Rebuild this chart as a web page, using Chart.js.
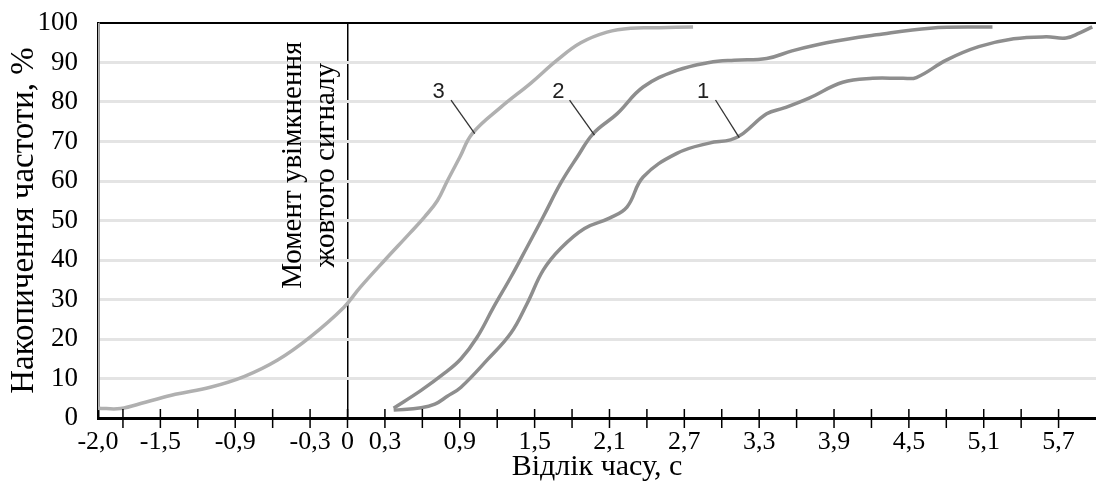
<!DOCTYPE html>
<html>
<head>
<meta charset="utf-8">
<script src="https://cdn.jsdelivr.net/npm/chart.js@4/dist/chart.umd.min.js"></script>
<style>
  html, body { margin: 0; padding: 0; background: #fff; }
  #wrap { width: 1096px; height: 482px; }
</style>
</head>
<body>
<div id="wrap"><canvas id="cumChart"></canvas></div>
<script>
// Curve 1
const curve1X = [0.37, 0.59, 0.7, 0.8, 0.91, 1.12, 1.31, 1.44, 1.57, 1.71, 1.9, 2.1, 2.24, 2.37, 2.64, 2.9, 3.07, 3.17, 3.36, 3.5, 3.7, 3.97, 4.21, 4.45, 4.56, 4.8, 5.06, 5.34, 5.6, 5.76, 5.87, 5.97];
const curve1Y = [2, 2.6, 3.5, 5.5, 7.8, 14.7, 21.5, 29, 37.5, 43, 48, 50.6, 53.4, 61, 67, 69.6, 70.4, 72, 77, 78.5, 81, 85, 86, 86, 86.2, 90.6, 94, 96, 96.5, 96.2, 97.5, 99];
// Curve 2
const curve2X = [0.37, 0.59, 0.78, 0.91, 1.04, 1.17, 1.31, 1.44, 1.57, 1.71, 1.84, 1.97, 2.16, 2.37, 2.64, 2.9, 3.1, 3.36, 3.57, 3.84, 4.24, 4.67, 5.17];
const curve2Y = [2.5, 7, 11.4, 15, 20.5, 28, 35.7, 43.3, 51, 59.5, 66, 72, 77, 83.8, 88, 90, 90.6, 91, 93, 95, 97, 98.7, 99];
// Curve 3
const curve3X = [-2.0, -1.82, -1.62, -1.38, -1.1, -0.83, -0.56, -0.3, -0.03, 0.1, 0.3, 0.5, 0.62, 0.72, 0.8, 0.9, 1.0, 1.23, 1.47, 1.68, 1.87, 2.08, 2.27, 2.5, 2.77];
const curve3Y = [2.5, 2.4, 4, 6, 7.8, 10.5, 14.7, 20.5, 28, 33, 40, 46.8, 51, 55, 60, 66, 72, 78.7, 84.8, 90.6, 95, 97.7, 98.7, 98.8, 99];
// vertical trace of curve 3 along the left axis
const edgeX = [-2.0, -2.0];
const edgeY = [100, 2.5];

const xLabelValues = [-2.0, -1.5, -0.9, -0.3, 0, 0.3, 0.9, 1.5, 2.1, 2.7, 3.3, 3.9, 4.5, 5.1, 5.7];
const xLabels = ['-2,0', '-1,5', '-0,9', '-0,3', '0', '0,3', '0,9', '1,5', '2,1', '2,7', '3,3', '3,9', '4,5', '5,1', '5,7'];

const curveNames = ['3', '2', '1'];

function pairs(xs, ys) {
  return xs.map((x, i) => ({ x: x, y: ys[i] }));
}

const serif = '"Liberation Serif", "Times New Roman", serif';

// numbered leader labels and the rotated note next to the zero line
const annotate = {
  id: 'annotate',
  afterDraw(chart) {
    const { ctx, chartArea } = chart;
    const x = chart.scales.x, y = chart.scales.y;
    ctx.save();

    // tick marks crossing the x axis
    ctx.strokeStyle = '#000';
    ctx.lineWidth = 1.5;
    x.ticks.forEach(t => {
      if (t.value <= -2) return;
      const px = x.getPixelForValue(t.value);
      ctx.beginPath();
      ctx.moveTo(px, chartArea.bottom - 9);
      ctx.lineTo(px, chartArea.bottom + 10);
      ctx.stroke();
    });

    // curve numbers with leader lines
    const spots = [
      { at: [0.73, 82.5], from: [0.83, 80.5], to: [1.02, 72] },
      { at: [1.69, 82.5], from: [1.78, 80.5], to: [1.98, 71.6] },
      { at: [2.85, 82.5], from: [2.95, 80.5], to: [3.14, 71] }
    ];
    ctx.font = '22px "Liberation Sans", Arial, sans-serif';
    ctx.fillStyle = '#222';
    ctx.textAlign = 'center';
    ctx.textBaseline = 'middle';
    ctx.strokeStyle = '#333';
    ctx.lineWidth = 1.3;
    spots.forEach((s, i) => {
      ctx.fillText(curveNames[i], x.getPixelForValue(s.at[0]), y.getPixelForValue(s.at[1]));
      ctx.beginPath();
      ctx.moveTo(x.getPixelForValue(s.from[0]), y.getPixelForValue(s.from[1]));
      ctx.lineTo(x.getPixelForValue(s.to[0]), y.getPixelForValue(s.to[1]));
      ctx.stroke();
    });

    // rotated note
    const x0 = x.getPixelForValue(0);
    const yc = y.getPixelForValue(64);
    ctx.font = '29px ' + serif;
    ctx.fillStyle = '#000';
    [['Момент увімкнення', -54], ['жовтого сигналу', -21]].forEach(([txt, dx]) => {
      ctx.save();
      ctx.translate(x0 + dx, yc);
      ctx.rotate(-Math.PI / 2);
      ctx.fillText(txt, 0, 0);
      ctx.restore();
    });

    ctx.restore();
  }
};

Chart.defaults.font.family = serif;
Chart.defaults.font.size = 26;
Chart.defaults.color = '#000';

new Chart(document.getElementById('cumChart'), {
  type: 'line',
  data: {
    datasets: [
      { data: pairs(edgeX, edgeY), borderColor: '#b5b5b5', borderWidth: 3, tension: 0 },
      { data: pairs(curve3X, curve3Y), borderColor: '#b0b0b0', borderWidth: 3.5, tension: 0.4 },
      { data: pairs(curve2X, curve2Y), borderColor: '#8e8e8e', borderWidth: 3.5, tension: 0.4 },
      { data: pairs(curve1X, curve1Y), borderColor: '#8e8e8e', borderWidth: 3.5, tension: 0.4 }
    ]
  },
  options: {
    responsive: true,
    maintainAspectRatio: false,
    animation: false,
    layout: { padding: { top: 23, right: 0, left: 0, bottom: 0 } },
    elements: { point: { radius: 0 } },
    plugins: { legend: { display: false }, tooltip: { enabled: false } },
    scales: {
      x: {
        type: 'linear',
        min: -2,
        max: 6,
        afterBuildTicks: scale => {
          const vals = [-2.0];
          for (let i = -6; i <= 19; i++) vals.push(Math.round(i * 3) / 10);
          scale.ticks = vals.map(v => ({ value: v }));
        },
        afterFit: scale => {
          scale.height = 64;
          scale.paddingLeft = 0;
          scale.paddingRight = 0;
        },
        ticks: {
          autoSkip: false,
          maxRotation: 0,
          padding: 9,
          font: { size: 26 },
          callback: value => {
            const k = xLabelValues.findIndex(l => Math.abs(l - value) < 1e-6);
            return k >= 0 ? xLabels[k] : '';
          }
        },
        grid: {
          drawTicks: false,
          color: ctx => (ctx.tick && ctx.tick.value === 0) ? '#000' : 'rgba(0,0,0,0)',
          lineWidth: 1.5
        },
        border: { display: true, color: '#000', width: 3 },
        title: {
          display: true,
          text: 'Відлік часу, с',
          font: { size: 30, lineHeight: 1 },
          padding: { top: 0, bottom: 0 }
        }
      },
      y: {
        min: 0,
        max: 100,
        afterFit: scale => {
          scale.width = 98;
          scale.paddingTop = 0;
          scale.paddingBottom = 0;
        },
        ticks: { stepSize: 10, padding: 20, font: { size: 27 } },
        grid: {
          drawTicks: false,
          color: ctx => ctx.tick.value === 100 ? '#000' : (ctx.tick.value === 0 ? 'rgba(0,0,0,0)' : '#e4e4e4'),
          lineWidth: ctx => ctx.tick.value === 100 ? 2 : 3
        },
        border: { display: true, color: '#000', width: 2.5 },
        title: {
          display: true,
          text: 'Накопичення частоти, %',
          font: { size: 33, lineHeight: 1.1 },
          padding: { top: 6, bottom: 0 }
        }
      }
    }
  },
  plugins: [annotate]
});
</script>
</body>
</html>
